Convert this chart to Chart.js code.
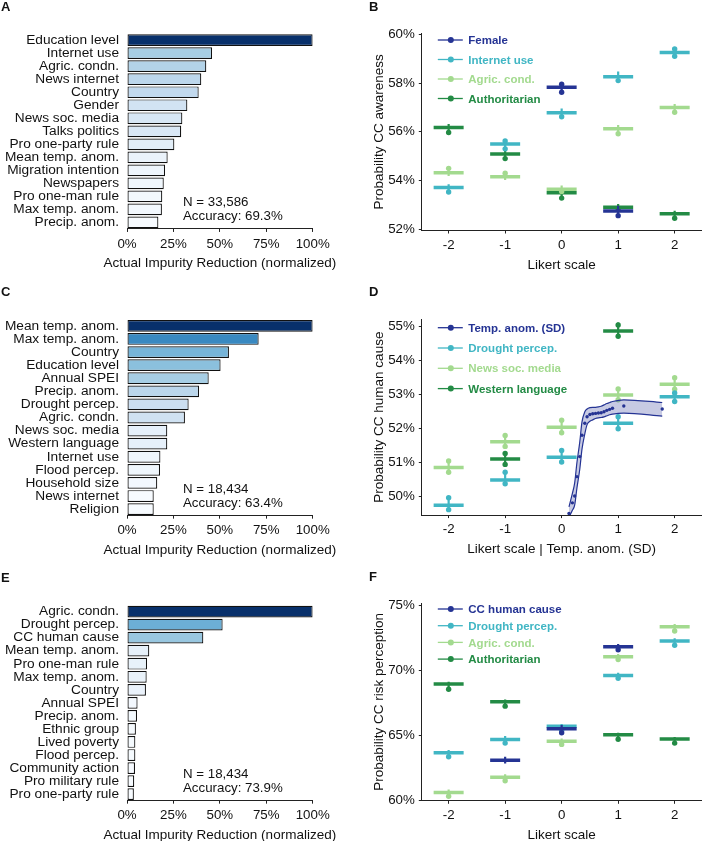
<!DOCTYPE html>
<html>
<head>
<meta charset="utf-8">
<script src="https://cdn.jsdelivr.net/npm/chart.js@4.4.1/dist/chart.umd.min.js"></script>
<style>
  html, body { margin: 0; padding: 0; background: #fff; overflow: hidden; }
  #page { position: relative; width: 720px; height: 841px; }
  canvas { position: absolute; }
</style>
</head>
<body>
<div id="page">
  <canvas id="chartA" width="345" height="280" style="left:0;top:0"></canvas>
  <canvas id="chartB" width="390" height="280" style="left:330px;top:0"></canvas>
  <canvas id="chartC" width="345" height="280" style="left:0;top:280px"></canvas>
  <canvas id="chartD" width="390" height="280" style="left:330px;top:280px"></canvas>
  <canvas id="chartE" width="345" height="281" style="left:0;top:560px"></canvas>
  <canvas id="chartF" width="390" height="281" style="left:330px;top:560px"></canvas>
</div>
<script>
// ---- data ----
var importanceTicks = [0, 25, 50, 75, 100];
var likert = [-2, -1, 0, 1, 2];

var labelsA = ['Education level', 'Internet use', 'Agric. condn.', 'News internet', 'Country', 'Gender',
  'News soc. media', 'Talks politics', 'Pro one-party rule', 'Mean temp. anom.', 'Migration intention',
  'Newspapers', 'Pro one-man rule', 'Max temp. anom.', 'Precip. anom.'];
var valuesA = [100, 45.8, 42.7, 40.0, 38.6, 32.5, 29.8, 29.2, 25.5, 21.9, 20.5, 19.8, 19.0, 18.8, 16.9];

var labelsC = ['Mean temp. anom.', 'Max temp. anom.', 'Country', 'Education level', 'Annual SPEI',
  'Precip. anom.', 'Drought percep.', 'Agric. condn.', 'News soc. media', 'Western language',
  'Internet use', 'Flood percep.', 'Household size', 'News internet', 'Religion'];
var valuesC = [100, 70.9, 54.9, 50.4, 44.0, 38.8, 33.2, 31.2, 21.7, 21.7, 18.0, 17.8, 16.3, 14.4, 14.4];

var labelsE = ['Agric. condn.', 'Drought percep.', 'CC human cause', 'Mean temp. anom.', 'Pro one-man rule',
  'Max temp. anom.', 'Country', 'Annual SPEI', 'Precip. anom.', 'Ethnic group', 'Lived poverty',
  'Flood percep.', 'Community action', 'Pro military rule', 'Pro one-party rule'];
var valuesE = [100, 51.5, 41.1, 12.0, 10.8, 10.6, 10.2, 5.7, 5.4, 4.8, 4.5, 4.5, 4.3, 3.9, 3.7];

// panel B: CC awareness
var seriesB = ['Female', 'Internet use', 'Agric. cond.', 'Authoritarian'];
var yTicksB = [52, 54, 56, 58, 60];
var meanB = [
  [null, null, 57.83, 52.75, null],
  [53.71, 55.5, 56.78, 58.26, 59.25],
  [54.32, 54.16, 53.64, 56.13, 57.0],
  [56.18, 55.09, 53.5, 52.9, 52.64]
];
var loB = [
  [null, null, 57.58, 52.52, null],
  [53.5, 55.29, 56.59, 58.06, 59.06],
  [54.19, 54.02, 53.5, 55.87, 56.76],
  [55.94, 54.87, 53.23, 52.79, 52.41]
];
var hiB = [
  [null, null, 58.0, 52.97, null],
  [53.85, 55.69, 56.96, 58.47, 59.43],
  [54.57, 54.36, 53.8, 56.28, 57.14],
  [56.32, 55.25, 53.61, 53.04, 52.76]
];
var dotB = [
  [null, null, [57.62, 57.95], 52.56, null],
  [53.53, [55.3, 55.62], 56.62, 58.1, [59.1, 59.4]],
  [54.5, 54.3, 53.55, 55.92, 56.8],
  [55.97, 54.9, 53.28, 52.85, 52.45]
];

// panel D: CC human cause
var seriesD = ['Temp. anom. (SD)', 'Drought percep.', 'News soc. media', 'Western language'];
var yTicksD = [50, 51, 52, 53, 54, 55];
var meanD = [
  [49.75, 50.49, 51.16, 52.16, 52.94],
  [50.86, 51.62, 52.04, 52.99, 53.31],
  [null, 51.11, null, 54.87, null]
];
var loD = [
  [49.58, 50.33, 50.97, 51.95, 52.78],
  [50.69, 51.44, 51.84, 52.81, 53.12],
  [null, 50.9, null, 54.68, null]
];
var hiD = [
  [50.0, 50.75, 51.38, 52.38, 53.1],
  [51.08, 51.85, 52.28, 53.22, 53.55],
  [null, 51.33, null, 55.12, null]
];
var dotD = [
  [[49.62, 49.97], [50.38, 50.72], [51.02, 51.36], [52.0, 52.35], [52.8, 53.05]],
  [[50.72, 51.05], [51.48, 51.8], [51.88, 52.25], [52.85, 53.17], [53.16, 53.5]],
  [null, [50.95, 51.27], null, [54.72, 55.05], null]
];
var tempX = [0.13, 0.19, 0.23, 0.27, 0.32, 0.36, 0.41, 0.45, 0.5, 0.55, 0.6, 0.65, 0.7, 0.75, 0.8, 0.85, 0.9, 1.1, 1.78];
var tempY = [49.51, 49.82, 50.02, 50.59, 51.18, 51.81, 52.16, 52.35, 52.42, 52.44, 52.45, 52.46, 52.47, 52.5, 52.54, 52.57, 52.6, 52.67, 52.58];
var tempHi = [49.7, 50.1, 50.4, 51.0, 51.6, 52.2, 52.5, 52.58, 52.62, 52.63, 52.63, 52.64, 52.66, 52.7, 52.74, 52.77, 52.8, 52.85, 52.77];
var tempLo = [49.4, 49.6, 49.75, 50.25, 50.8, 51.4, 51.85, 52.12, 52.22, 52.26, 52.3, 52.32, 52.33, 52.35, 52.38, 52.41, 52.43, 52.46, 52.37];

// panel F: CC risk perception
var seriesF = ['CC human cause', 'Drought percep.', 'Agric. cond.', 'Authoritarian'];
var yTicksF = [60, 65, 70, 75];
var meanF = [
  [null, 63.08, 65.5, 71.83, null],
  [63.65, 64.68, 65.71, 69.62, 72.27],
  [60.59, 61.77, 64.55, 71.06, 73.38],
  [68.95, 67.59, null, 65.04, 64.71]
];
var loF = [
  [null, 62.83, 65.15, 71.53, null],
  [63.29, 64.32, 65.27, 69.32, 71.89],
  [60.2, 61.41, 64.17, 70.75, 72.99],
  [68.49, 67.15, null, 64.58, 64.32]
];
var hiF = [
  [null, 63.34, 65.79, 72.04, null],
  [63.86, 64.94, 65.87, 69.83, 72.48],
  [60.82, 62.0, 64.76, 71.27, 73.59],
  [69.13, 67.77, null, 65.19, 64.88]
];
var dotF = [
  [null, null, 65.2, 71.6, null],
  [63.35, 64.4, 65.4, 69.4, 71.95],
  [60.3, 61.5, 64.3, 70.85, 73.05],
  [68.55, 67.25, null, 64.7, 64.4]
];

// ---- styles ----
var FONT = '"Liberation Sans", Arial, Helvetica, sans-serif';
var palette = ['#253494', '#41b6c4', '#a3da8f', '#238b45'];
var bluesStops = ['#f7fbff', '#deebf7', '#c6dbef', '#9ecae1', '#6baed6', '#4292c6', '#2171b5', '#08519c', '#08306b'];

Chart.defaults.font.family = FONT;
Chart.defaults.font.size = 13.3;
Chart.defaults.color = '#111';

function hexToRgb(h) {
  return [1, 3, 5].map(function (k) { return parseInt(h.substr(k, 2), 16); });
}

function blues(t) {
  var p = Math.max(0, Math.min(1, t)) * (bluesStops.length - 1);
  var i = Math.min(Math.floor(p), bluesStops.length - 2);
  var f = p - i;
  var a = hexToRgb(bluesStops[i]), b = hexToRgb(bluesStops[i + 1]);
  return 'rgb(' + a.map(function (c, k) { return Math.round(c + (b[k] - c) * f); }).join(',') + ')';
}

// titles, panel letters and notes
function textPlugin(cfg) {
  return {
    id: 'panelText',
    afterDraw: function (chart) {
      var ctx = chart.ctx, a = chart.chartArea;
      ctx.save();
      ctx.fillStyle = '#111';
      ctx.textBaseline = 'alphabetic';
      ctx.textAlign = 'left';
      ctx.font = 'bold 13px ' + FONT;
      ctx.fillText(cfg.letter, cfg.letterX, cfg.letterY);

      ctx.font = '13.5px ' + FONT;
      ctx.textAlign = 'center';
      ctx.fillText(cfg.xTitle, (a.left + a.right) / 2, a.bottom + 33.5 + 4.8);

      if (cfg.notes) {
        ctx.font = '13.3px ' + FONT;
        ctx.textAlign = 'left';
        ctx.fillText(cfg.notes[0], a.left + 56, a.bottom - 27.4 + 4.8);
        ctx.fillText(cfg.notes[1], a.left + 56, a.bottom - 13.6 + 4.8);
      }
      if (cfg.yTitle) {
        ctx.translate(48 + 4.8, (a.top + a.bottom) / 2);
        ctx.rotate(-Math.PI / 2);
        ctx.textAlign = 'center';
        ctx.fillText(cfg.yTitle, 0, 0);
      }
      ctx.restore();
    }
  };
}

// legend with line + dot keys inside the plot
function legendPlugin(names, colors, y0, dy) {
  return {
    id: 'lineLegend',
    afterDraw: function (chart) {
      var ctx = chart.ctx, a = chart.chartArea;
      ctx.save();
      ctx.font = 'bold 11.5px ' + FONT;
      ctx.textAlign = 'left';
      ctx.textBaseline = 'alphabetic';
      names.forEach(function (name, i) {
        var y = a.top + y0 + i * dy;
        ctx.strokeStyle = colors[i];
        ctx.fillStyle = colors[i];
        ctx.lineWidth = 1.3;
        ctx.beginPath();
        ctx.moveTo(a.left + 16, y);
        ctx.lineTo(a.left + 41, y);
        ctx.stroke();
        ctx.beginPath();
        ctx.arc(a.left + 29, y, 3, 0, Math.PI * 2);
        ctx.fill();
        ctx.fillText(name, a.left + 46.5, y + 4.1);
      });
      ctx.restore();
    }
  };
}

function barChart(id, labels, values, geo, text) {
  var lo = Math.min.apply(null, values), hi = Math.max.apply(null, values);
  var canvas = document.getElementById(id);
  new Chart(canvas, {
    type: 'bar',
    data: {
      labels: labels,
      datasets: [{
        data: values,
        backgroundColor: values.map(function (v) { return blues((v - lo) / (hi - lo)); }),
        borderColor: '#111',
        borderWidth: 1.2,
        borderSkipped: false,
        barPercentage: 0.9,
        categoryPercentage: 1
      }]
    },
    options: {
      indexAxis: 'y',
      responsive: false,
      animation: false,
      events: [],
      layout: { padding: { top: geo.top, right: canvas.width - 312.7, bottom: 0, left: 0 } },
      scales: {
        x: {
          type: 'linear', min: 0, max: 100,
          afterBuildTicks: function (s) { s.ticks = importanceTicks.map(function (v) { return { value: v }; }); },
          afterFit: function (s) { s.height = canvas.height - geo.bottom; },
          ticks: { callback: function (v) { return v + '%'; }, padding: 4, maxRotation: 0 },
          grid: { drawOnChartArea: false, tickLength: 3, color: '#222' },
          border: { color: '#222', width: 1 }
        },
        y: {
          afterFit: function (s) { s.width = 127; },
          grid: { display: false, drawTicks: false },
          border: { display: false },
          ticks: { autoSkip: false, padding: 8, font: { size: 13.7 } }
        }
      },
      plugins: { legend: { display: false }, tooltip: { enabled: false } }
    },
    plugins: [textPlugin(text)]
  });
}

function groupSets(color, mean, lo, hi, dot) {
  var sets = [];
  var meanPts = [], barPts = [], dotPts = [];
  likert.forEach(function (x, i) {
    if (mean[i] !== null) meanPts.push({ x: x, y: mean[i] });
    if (lo[i] !== null) barPts.push({ x: x, y: lo[i] }, { x: x, y: hi[i] }, { x: x, y: null });
    [].concat(dot[i]).forEach(function (v) { if (v !== null) dotPts.push({ x: x, y: v }); });
  });
  sets.push({ data: meanPts, pointStyle: 'line', pointRadius: 15, pointBorderWidth: 3.5,
    pointBorderColor: color, pointBackgroundColor: color });
  sets.push({ data: barPts, showLine: true, spanGaps: false, pointRadius: 0, borderColor: color, borderWidth: 2.2 });
  sets.push({ data: dotPts, pointRadius: 2.7, pointBorderWidth: 0, pointBackgroundColor: color });
  return sets;
}

function likertChart(id, datasets, yMin, yMax, yTicks, geo, text, legend) {
  var canvas = document.getElementById(id);
  new Chart(canvas, {
    type: 'scatter',
    data: { datasets: datasets },
    options: {
      responsive: false,
      animation: false,
      events: [],
      layout: { padding: { top: geo.top, right: 0.4, bottom: 0, left: 0 } },
      scales: {
        x: {
          type: 'linear', min: -2.475, max: 2.475,
          afterBuildTicks: function (s) { s.ticks = likert.map(function (v) { return { value: v }; }); },
          afterFit: function (s) { s.height = canvas.height - geo.bottom; },
          ticks: { callback: function (v) { return String(v); }, padding: 3.5, maxRotation: 0 },
          grid: { drawOnChartArea: false, tickLength: 3, color: '#222' },
          border: { color: '#222', width: 1 }
        },
        y: {
          min: yMin, max: yMax,
          afterBuildTicks: function (s) { s.ticks = yTicks.map(function (v) { return { value: v }; }); },
          afterFit: function (s) { s.width = 91.8; },
          ticks: { callback: function (v) { return v + '%'; }, padding: 4 },
          grid: { drawOnChartArea: false, tickLength: 3, color: '#222' },
          border: { color: '#222', width: 1 }
        }
      },
      plugins: { legend: { display: false }, tooltip: { enabled: false } }
    },
    plugins: [textPlugin(text), legend]
  });
}

// ---- panels ----
barChart('chartA', labelsA, valuesA, { top: 33.65, bottom: 228.95 },
  { letter: 'A', letterX: 1, letterY: 11, xTitle: 'Actual Impurity Reduction (normalized)',
    notes: ['N = 33,586', 'Accuracy: 69.3%'] });
barChart('chartC', labelsC, valuesC, { top: 39.35, bottom: 235.65 },
  { letter: 'C', letterX: 1, letterY: 15.7, xTitle: 'Actual Impurity Reduction (normalized)',
    notes: ['N = 18,434', 'Accuracy: 63.4%'] });
barChart('chartE', labelsE, valuesE, { top: 45.05, bottom: 240.65 },
  { letter: 'E', letterX: 1, letterY: 21.7, xTitle: 'Actual Impurity Reduction (normalized)',
    notes: ['N = 18,434', 'Accuracy: 73.9%'] });

var setsB = [];
seriesB.forEach(function (name, s) {
  setsB = setsB.concat(groupSets(palette[s], meanB[s], loB[s], hiB[s], dotB[s]));
});
likertChart('chartB', setsB, 51.95, 60.05, yTicksB, { top: 33.1, bottom: 230.5 },
  { letter: 'B', letterX: 39, letterY: 11, xTitle: 'Likert scale', yTitle: 'Probability CC awareness' },
  legendPlugin(seriesB, palette, 6.9, 19.5));

var setsD = [];
var tempPts = function (arr) { return tempX.map(function (x, i) { return { x: x, y: arr[i] }; }); };
setsD.push({ type: 'line', data: tempPts(tempHi), fill: '+1', backgroundColor: 'rgba(37,52,148,0.26)',
  borderColor: palette[0], borderWidth: 1.2, pointRadius: 0, cubicInterpolationMode: 'monotone' });
setsD.push({ type: 'line', data: tempPts(tempLo), fill: false,
  borderColor: palette[0], borderWidth: 1.2, pointRadius: 0, cubicInterpolationMode: 'monotone' });
setsD.push({ data: tempPts(tempY), pointRadius: 1.7, pointBorderWidth: 0, pointBackgroundColor: palette[0] });
for (var s = 1; s < seriesD.length; s++) {
  setsD = setsD.concat(groupSets(palette[s], meanD[s - 1], loD[s - 1], hiD[s - 1], dotD[s - 1]));
}
likertChart('chartD', setsD, 49.46, 55.22, yTicksD, { top: 39.2, bottom: 235.1 },
  { letter: 'D', letterX: 39, letterY: 16, xTitle: 'Likert scale | Temp. anom. (SD)', yTitle: 'Probability CC human cause' },
  legendPlugin(seriesD, palette, 8.5, 20.3));

var setsF = [];
seriesF.forEach(function (name, s) {
  setsF = setsF.concat(groupSets(palette[s], meanF[s], loF[s], hiF[s], dotF[s]));
});
likertChart('chartF', setsF, 59.95, 75.2, yTicksF, { top: 43.1, bottom: 240.8 },
  { letter: 'F', letterX: 39, letterY: 20.7, xTitle: 'Likert scale', yTitle: 'Probability CC risk perception' },
  legendPlugin(seriesF, palette, 5.9, 16.7));
</script>
</body>
</html>
